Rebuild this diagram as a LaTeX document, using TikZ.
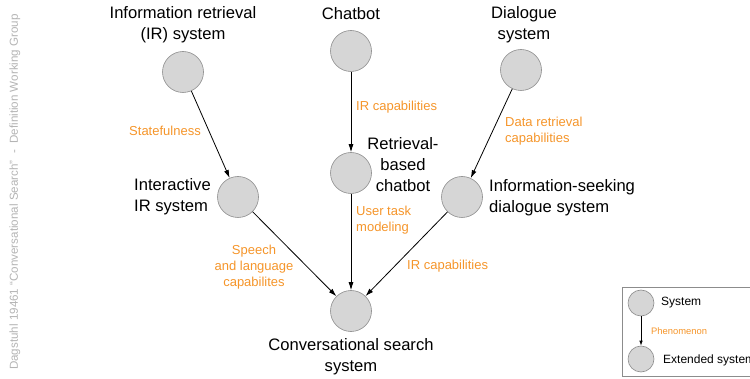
\documentclass[tikz,border=0pt]{standalone}
\usepackage{fontspec}
\setmainfont{Liberation Sans}
\usetikzlibrary{arrows.meta}
\definecolor{circfill}{HTML}{D6D6D6}
\definecolor{circdraw}{HTML}{8C8C8C}
\definecolor{lblorange}{HTML}{F5952A}
\definecolor{sidegray}{HTML}{B4B4B4}
\tikzset{
  sys/.style={circle, fill=circfill, draw=circdraw, line width=0.6pt, minimum size=41pt, inner sep=0pt},
  legsys/.style={circle, fill=circfill, draw=circdraw, line width=0.6pt, minimum size=26pt, inner sep=0pt},
  syslabel/.style={font=\fontsize{16.6}{21}\selectfont, inner sep=0pt, text=black},
  phen/.style={font=\fontsize{13}{16}\selectfont, inner sep=0pt, text=lblorange},
  conn/.style={draw=black, line width=0.8pt, -{Latex[length=8pt,width=5pt]}},
  legtext/.style={font=\fontsize{12}{14}\selectfont, anchor=west, inner sep=0pt},
}
\begin{document}
\begin{tikzpicture}[x=1pt,y=-1pt]
\useasboundingbox (0,0) rectangle (750,379);
\clip (0,0) rectangle (750,379);
% side text
\node[rotate=90, text=sidegray, font=\fontsize{11.6}{14}\selectfont, inner sep=0pt] (side) at (15,192) {Dagstuhl 19461 “Conversational Search” \ - \ Definition Working Group};
% circles
\node[sys] (ir) at (183,72) {};
\node[sys] (chat) at (351,51) {};
\node[sys] (dia) at (521,70) {};
\node[sys] (iir) at (238,197) {};
\node[sys] (rbc) at (351,173) {};
\node[sys] (isd) at (462,197) {};
\node[sys] (css) at (351,311) {};
% names
\node[syslabel, align=center] (irl) at (183,25) {Information retrieval\\(IR) system};
\node[syslabel] (chatl) at (351,14) {Chatbot};
\node[syslabel, align=center] (dial) at (524,25) {Dialogue\\system};
\node[syslabel, align=left, anchor=west] (iirl) at (134,197) {Interactive\\IR system};
\node[syslabel, align=center] (rbcl) at (403,165) {Retrieval-\\based\\chatbot};
\node[syslabel, align=left, anchor=west] (isdl) at (489,198) {Information-seeking\\dialogue system};
\node[syslabel, align=center] (cssl) at (351,357) {Conversational search\\system};
% connectors
\draw[conn] (ir) -- (iir);
\draw[conn] (chat) -- (rbc);
\draw[conn] (dia) -- (isd);
\draw[conn] (iir) -- (css);
\draw[conn] (rbc) -- (css);
\draw[conn] (isd) -- (css);
% phenomena
\node[phen] (p1) at (165,131) {Statefulness};
\node[phen, anchor=west] (p2) at (356,107) {IR capabilities};
\node[phen, anchor=west, align=left] (p3) at (505,131) {Data retrieval\\capabilities};
\node[phen, anchor=west, align=left] (p4) at (356,220) {User task\\modeling};
\node[phen, align=center] (p5) at (254,267) {Speech\\and language\\capabilites};
\node[phen, anchor=west] (p6) at (407,266) {IR capabilities};
% legend
\draw[draw=circdraw, line width=0.6pt] (622,287) rectangle (770,376);
\node[legsys] (lsys) at (641,303) {};
\node[legsys] (lext) at (641,359) {};
\draw[draw=black, line width=0.7pt, -{Latex[length=5pt,width=3.5pt]}] (lsys) -- (lext);
\node[legtext] (lsysl) at (661,303) {System};
\node[legtext] (lextl) at (663,360) {Extended system};
\node[font=\fontsize{9.4}{11}\selectfont, text=lblorange, anchor=west, inner sep=0pt] (lphen) at (651,331) {Phenomenon};
\end{tikzpicture}
\end{document}
